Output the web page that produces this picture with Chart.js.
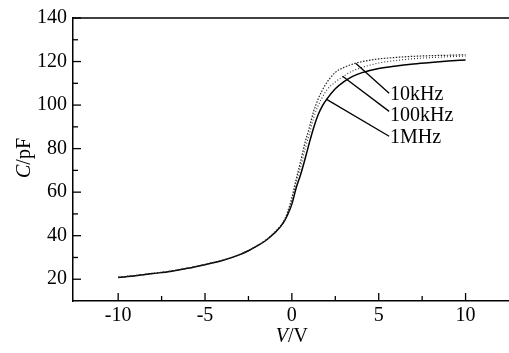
<!DOCTYPE html>
<html><head><meta charset="utf-8">
<script src="https://cdn.jsdelivr.net/npm/chart.js@4/dist/chart.umd.min.js"></script>
<style>html,body{margin:0;padding:0;background:#fff;}#wrap{width:509px;height:353px;}</style>
</head><body><div id="wrap"><canvas id="c" width="509" height="353"></canvas></div>
<script>
const voltage   = [-10, -9, -8, -7, -6, -5, -4, -3, -2.5, -2, -1.5, -1, -0.5, -0.25, 0, 0.25, 0.5, 0.75, 1, 1.25, 1.5, 1.75, 2, 2.5, 3, 3.5, 4, 5, 6, 7, 8, 9, 10];
const cap10kHz  = [20.9, 21.7, 22.7, 23.7, 25.1, 26.8, 28.7, 31.4, 33.2, 35.4, 38.0, 41.5, 46.3, 50.8, 57.5, 66.0, 74.0, 82.5, 89.5, 97.0, 102.5, 106.8, 110.2, 115.0, 117.3, 118.8, 119.9, 121.2, 121.9, 122.4, 122.7, 122.9, 123.1];
const cap100kHz = [20.9, 21.7, 22.7, 23.7, 25.1, 26.8, 28.7, 31.4, 33.2, 35.4, 37.9, 41.4, 46.0, 50.2, 56.0, 64.5, 71.5, 79.5, 86.5, 94.0, 99.5, 103.5, 106.8, 110.6, 113.4, 115.7, 117.2, 119.3, 120.5, 121.3, 121.8, 122.2, 122.5];
const cap1MHz   = [20.8, 21.6, 22.6, 23.6, 25.0, 26.7, 28.6, 31.3, 33.1, 35.3, 37.8, 41.2, 45.8, 49.5, 54.5, 62.0, 68.0, 75.0, 82.5, 89.5, 95.3, 99.5, 102.6, 107.5, 110.8, 113.2, 114.8, 116.8, 118.0, 118.9, 119.6, 120.2, 120.7];
const seriesLabels = ['10kHz', '100kHz', '1MHz'];
const xTickValues = [-10, -5, 0, 5, 10];
const yTickValues = [20, 40, 60, 80, 100, 120, 140];
const xMinorValues = [-7.5, -2.5, 2.5, 7.5];
const yMinorValues = [30, 50, 70, 90, 110, 130];

const FONT = '"Liberation Serif", "Times New Roman", serif';
const toPts = arr => voltage.map((v, i) => ({x: v, y: arr[i]}));

const annotations = [
  {text: seriesLabels[0], from: [3.69, 119.1], to: [5.6, 105.4], at: [5.65, 104.6]},
  {text: seriesLabels[1], from: [2.92, 113.2], to: [5.6, 97.1], at: [5.65, 95.0]},
  {text: seriesLabels[2], from: [2.0, 102.6], to: [5.6, 85.7], at: [5.65, 84.8]}
];

const decor = {
  id: 'decor',
  afterDraw(chart) {
    const ctx = chart.ctx, a = chart.chartArea;
    const xs = chart.scales.x, ys = chart.scales.y;
    ctx.save();
    ctx.strokeStyle = '#000';
    ctx.lineWidth = 1.5;
    ctx.beginPath(); ctx.moveTo(a.left - 0.75, a.top); ctx.lineTo(a.right, a.top); ctx.stroke();
    ctx.lineWidth = 1.3;
    const seg = (x1, y1, x2, y2) => { ctx.beginPath(); ctx.moveTo(x1, y1); ctx.lineTo(x2, y2); ctx.stroke(); };
    xTickValues.forEach(v => { const p = xs.getPixelForValue(v); seg(p, a.bottom, p, a.bottom - 8); });
    xMinorValues.forEach(v => { const p = xs.getPixelForValue(v); seg(p, a.bottom, p, a.bottom - 5); });
    yTickValues.forEach(v => { const p = ys.getPixelForValue(v); seg(a.left, p, a.left + 8, p); });
    yMinorValues.forEach(v => { const p = ys.getPixelForValue(v); seg(a.left, p, a.left + 5, p); });
    ctx.fillStyle = '#000';
    ctx.font = '20px ' + FONT;
    ctx.textBaseline = 'middle';
    ctx.textAlign = 'left';
    annotations.forEach(an => {
      seg(xs.getPixelForValue(an.from[0]), ys.getPixelForValue(an.from[1]),
          xs.getPixelForValue(an.to[0]), ys.getPixelForValue(an.to[1]));
      ctx.fillText(an.text, xs.getPixelForValue(an.at[0]), ys.getPixelForValue(an.at[1]));
    });
    const drawMixed = (parts, cx, cy) => {
      let total = 0;
      parts.forEach(p => { ctx.font = (p.italic ? 'italic ' : '') + '20px ' + FONT; p.w = ctx.measureText(p.t).width; total += p.w; });
      let x = cx - total / 2;
      ctx.textAlign = 'left';
      parts.forEach(p => { ctx.font = (p.italic ? 'italic ' : '') + '20px ' + FONT; ctx.fillText(p.t, x, cy); x += p.w; });
    };
    drawMixed([{t: 'V', italic: true}, {t: '/V'}], xs.getPixelForValue(0), 337);
    ctx.save();
    ctx.translate(25, 158);
    ctx.rotate(-Math.PI / 2);
    drawMixed([{t: 'C', italic: true}, {t: '/pF'}], 0, 0);
    ctx.restore();
    ctx.restore();
  }
};

new Chart(document.getElementById('c'), {
  type: 'line',
  data: {
    datasets: [
      {label: seriesLabels[0], data: toPts(cap10kHz), borderColor: '#222', borderWidth: 1.2, borderDash: [1.5, 1.5], pointRadius: 0, cubicInterpolationMode: 'monotone', fill: false},
      {label: seriesLabels[1], data: toPts(cap100kHz), borderColor: '#333', borderWidth: 1.1, borderDash: [1, 2], pointRadius: 0, cubicInterpolationMode: 'monotone', fill: false},
      {label: seriesLabels[2], data: toPts(cap1MHz), borderColor: '#000', borderWidth: 1.5, pointRadius: 0, cubicInterpolationMode: 'monotone', fill: false}
    ]
  },
  options: {
    responsive: false,
    animation: false,
    devicePixelRatio: 1,
    layout: {padding: {top: 16, left: 0, right: 0, bottom: 0}},
    plugins: {legend: {display: false}, tooltip: {enabled: false}},
    scales: {
      x: {
        type: 'linear', min: -12.6, max: 12.5,
        afterBuildTicks: s => { s.ticks = xTickValues.map(v => ({value: v})); },
        afterFit: s => { s.height = 52; },
        grid: {display: false, drawTicks: false},
        border: {display: true, color: '#000', width: 1.5},
        ticks: {color: '#000', font: {family: FONT, size: 20}, padding: 3, maxRotation: 0, autoSkip: false}
      },
      y: {
        type: 'linear', min: 10, max: 140,
        afterBuildTicks: s => { s.ticks = yTickValues.map(v => ({value: v})); },
        afterFit: s => { s.width = 73; },
        grid: {display: false, drawTicks: false},
        border: {display: true, color: '#000', width: 1.5},
        ticks: {color: '#000', font: {family: FONT, size: 20}, padding: 6, autoSkip: false}
      }
    }
  },
  plugins: [decor]
});
</script></body></html>
